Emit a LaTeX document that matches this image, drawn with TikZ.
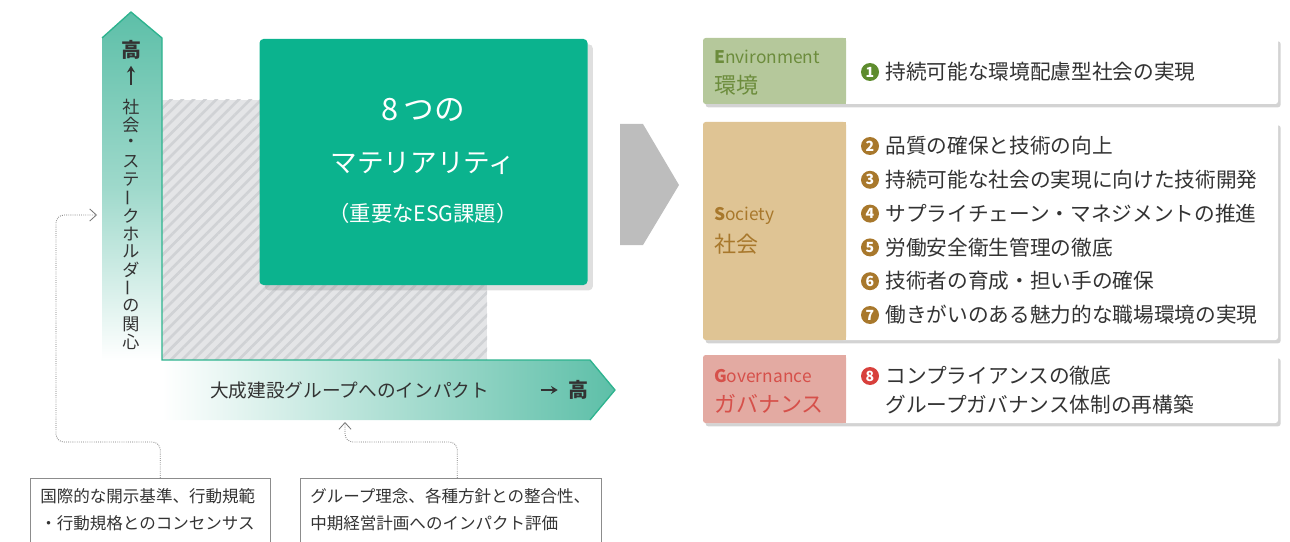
\documentclass[tikz,border=0pt]{standalone}
\usepackage{fontspec}
\setmainfont{Noto Sans CJK JP}
\usetikzlibrary{positioning}
\usetikzlibrary{arrows.meta}
\usetikzlibrary{shadows}
\usetikzlibrary{patterns.meta}

\definecolor{matgreen}{HTML}{0BB38E}
\definecolor{axisteal}{HTML}{5DBFA8}
\definecolor{axisline}{HTML}{2DB38E}
\definecolor{hatchbg}{HTML}{E4E5E7}
\definecolor{hatchfg}{HTML}{D0D2D5}
\definecolor{chevgray}{HTML}{BDBDBD}
\definecolor{envbg}{HTML}{B5C89B}
\definecolor{envfg}{HTML}{6C8C3C}
\definecolor{envdot}{HTML}{5E8C2E}
\definecolor{socbg}{HTML}{DFC494}
\definecolor{socfg}{HTML}{A8782C}
\definecolor{govbg}{HTML}{E3AAA2}
\definecolor{govfg}{HTML}{D6504A}
\definecolor{govdot}{HTML}{D8403C}
\definecolor{txt}{HTML}{333333}

\newcommand{\tatebar}{\rotatebox[origin=c]{90}{ー}}

\begin{document}
\begin{tikzpicture}[x=0.75pt, y=-0.75pt,
  axislab/.style={font=\fontsize{12.8}{14}\selectfont, text=txt, inner sep=0pt},
  hilab/.style={font=\fontsize{15}{16}\selectfont\bfseries, text=txt, inner sep=0pt},
  hiarrow/.style={-{Stealth[length=5pt, width=6pt]}, line width=1.5pt, txt},
  mattext/.style={font=\fontsize{#1}{#1}\selectfont, text=white, inner sep=0pt},
  panel/.style={fill=white, rounded corners=2pt, drop shadow={shadow xshift=2pt, shadow yshift=-2.5pt, opacity=.35}},
  grouplab/.style={text=#1, anchor=west, inner sep=0pt},
  enlab/.style={font=\fontsize{13}{14}\selectfont},
  jalab/.style={font=\fontsize{16.5}{18}\selectfont},
  num/.style={circle, fill=#1, text=white, inner sep=0pt, minimum size=13.5pt, font=\fontsize{10.5}{10.5}\selectfont\bfseries},
  item/.style={font=\fontsize{15.5}{18}\selectfont, text=txt, inner sep=0pt, anchor=west},
  srcbox/.style={align=left, anchor=north west, inner xsep=7.5pt, inner ysep=8pt, text=txt, font=\fontsize{12.4}{20}\selectfont},
  frame/.style={draw=black!45, line width=.6pt},
  dotline/.style={densely dotted, black!55, line width=.6pt, rounded corners=6pt},
  barb/.style={-{Straight Barb[length=5pt, width=9pt]}}
]
\useasboundingbox (0,0) rectangle (1290,542);

\fill[hatchbg] (162,100) rectangle (487,360);
\fill[pattern={Lines[angle=45, distance=6pt, line width=2pt]}, pattern color=hatchfg] (162,100) rectangle (487,360);

\node[fill=matgreen, rounded corners=3pt, minimum width=246pt, minimum height=184.5pt,
  drop shadow={shadow xshift=4pt, shadow yshift=-4pt, opacity=.25}] (mat) at (423.5,162) {};
\node[mattext=23] (mat1) at (423,110) {8\,つの};
\node[mattext=20] (mat2) at (423,163) {マテリアリティ};
\node[mattext=16] (mat3) at (423,213) {（重要なESG課題）};

\shade[top color=axisteal, bottom color=white, middle color=axisteal!60] (102,360) -- (102,38) -- (131,12) -- (162,38) -- (162,360) -- cycle;
\shade[left color=white, right color=axisteal] (162,360) -- (590,360) -- (615,390) -- (590,420) -- (162,420) -- cycle;
\draw[axisline, line width=1pt] (102,38) -- (131,12) -- (162,38) -- (162,360) -- (590,360) -- (615,390) -- (590,420);

\node[hilab] (vhi) at (131,50) {高};
\draw[hiarrow] (vhi.south) ++(0,25) -- ++(0,-19);
\foreach \c [count=\i] in {社,会,・,ス,テ,\tatebar,ク,ホ,ル,ダ,\tatebar,の,関,心} {
  \node[axislab] (v\i) at (131,{107+18.1*(\i-1)}) {\c};
}
\node[axislab, font=\fontsize{14}{16}\selectfont, anchor=west] (himp) at (210,390) {大成建設グループへのインパクト};
\node[hilab] (hhi) at (578,390) {高};
\draw[hiarrow] (hhi.west) ++(-27,0) -- ++(17,0);

\fill[chevgray] (620,124) -- (643,124) -- (679,185) -- (643,245) -- (620,245) -- cycle;

\foreach \t/\b/\bg in {38/104/envbg, 122/340/socbg, 355/423/govbg} {
  \fill[panel] (703,\t) rectangle (1278,\b);
  \fill[\bg, rounded corners=2pt] (703,\t) rectangle (846,\b);
  \fill[\bg] (830,\t) rectangle (846,\b);
}

\node[grouplab=envfg, enlab] (enven) at (714,57) {\textbf{E}nvironment};
\node[grouplab=envfg, jalab] (envja) at (714,85) {環境};
\node[grouplab=socfg, enlab] (socen) at (714,216) {\textbf{S}ociety};
\node[grouplab=socfg, jalab] (socja) at (714,244) {社会};
\node[grouplab=govfg, enlab] (goven) at (714,376) {\textbf{G}overnance};
\node[grouplab=govfg, jalab] (govja) at (714,404) {ガバナンス};

\node[num=envdot] (n1) at (870,72) {1};
\node[item, right=4.5pt of n1] (i1) {持続可能な環境配慮型社会の実現};
\foreach \n/\t [count=\i] in {2/品質の確保と技術の向上, 3/持続可能な社会の実現に向けた技術開発,
  4/サプライチェーン・マネジメントの推進, 5/労働安全衛生管理の徹底,
  6/技術者の育成・担い手の確保, 7/働きがいのある魅力的な職場環境の実現} {
  \node[num=socfg] (n\n) at (870,{146+33.8*(\i-1)}) {\n};
  \node[item, right=4.5pt of n\n] (i\n) {\t};
}
\node[num=govdot] (n8) at (870,376) {8};
\node[item, right=4.5pt of n8] (i8) {コンプライアンスの徹底};
\node[item] (i8b) at ([yshift=-21.75pt]i8.west) {グループガバナンス体制の再構築};

\node[srcbox, text width=165pt] (lbox) at (30,478) {国際的な開示基準、行動規範\\・行動規格とのコンセンサス};
\node[srcbox, text width=211pt] (rbox) at (300,478) {グループ理念、各種方針との整合性、\\中期経営計画へのインパクト評価};
\draw[frame] ([yshift=-30pt]lbox.south west) -- (lbox.north west) -- (lbox.north east) -- ([yshift=-30pt]lbox.south east);
\draw[frame] ([yshift=-30pt]rbox.south west) -- (rbox.north west) -- (rbox.north east) -- ([yshift=-30pt]rbox.south east);

\coordinate (vin) at (97,215);
\coordinate (hin) at (345,422);
\draw[dotline, barb] ([xshift=7.5pt]lbox.north) |- (56,442) |- (vin);
\draw[dotline, barb] ([xshift=4.75pt]rbox.north) |- (345,442) -- (hin);
\end{tikzpicture}
\end{document}
